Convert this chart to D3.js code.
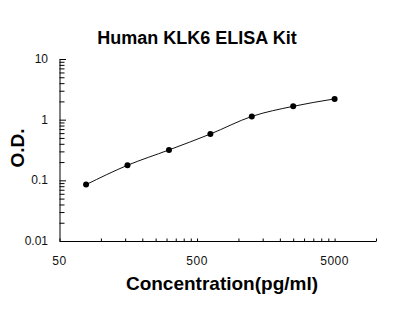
<!DOCTYPE html>
<html>
<head>
<meta charset="utf-8">
<script src="https://cdn.jsdelivr.net/npm/d3@7"></script>
<style>
  body { margin: 0; background: #fff; }
  svg { display: block; font-family: Arial, "Liberation Sans", sans-serif; }
  .tick-label { font-size: 12px; fill: #111; }
</style>
</head>
<body>
<div id="chart"></div>
<script>
const width = 394
const height = 319

// standard dilution series (pg/ml) and measured O.D.
const concentration = [78, 156, 312.5, 625, 1250, 2500, 5000]
const od = [0.085, 0.177, 0.317, 0.58, 1.13, 1.66, 2.2]

const xLabels = [50, 500, 5000]
const yLabels = [10, 1, 0.1, 0.01]

const x = d3.scaleLog()
    .domain([50, 10000])
    .range([59.5, 376])

const y = d3.scaleLog()
    .domain([0.01, 10])
    .range([241, 59])

const svg = d3.select('#chart')
    .append('svg')
    .attr('width', width)
    .attr('height', height)

// title
svg.append('text')
    .attr('x', 197)
    .attr('y', 44)
    .attr('text-anchor', 'middle')
    .style('font-size', '18px')
    .style('font-weight', 'bold')
    .text('Human KLK6 ELISA Kit')

// x minor ticks: 50,100,...,500 then 1000,...,5000, then 10000
let xTicks = []
for (let k = 1; k <= 10; k++) xTicks.push(50 * k)
for (let k = 2; k <= 10; k++) xTicks.push(500 * k)
xTicks.push(10000)

const xAxis = d3.axisBottom(x)
    .tickValues(xTicks)
    .tickSizeInner(-2.5)
    .tickSizeOuter(0)
    .tickFormat('')

const gx = svg.append('g')
    .attr('transform', `translate(0,${y(0.01)})`)
    .call(xAxis)
gx.selectAll('path, line').attr('stroke', '#000').attr('stroke-width', 1)

svg.selectAll('text.xlab')
    .data(xLabels)
    .enter()
    .append('text')
    .attr('class', 'tick-label')
    .attr('x', d => x(d))
    .attr('y', 265)
    .attr('text-anchor', 'middle')
    .style('letter-spacing', '0.5px')
    .text(d => d)

// y ticks, major at decades, minor between
let yTicks = []
for (let e = -2; e < 1; e++) {
    for (let k = 1; k < 10; k++) yTicks.push(k * Math.pow(10, e))
}
yTicks.push(10)

const yAxis = d3.axisLeft(y)
    .tickValues(yTicks)
    .tickSizeInner(-5)
    .tickSizeOuter(0)
    .tickFormat('')

const gy = svg.append('g')
    .attr('transform', `translate(${x(50)},0)`)
    .call(yAxis)
gy.selectAll('path, line').attr('stroke', '#000').attr('stroke-width', 1)
gy.selectAll('.tick line')
    .filter(d => Math.abs(Math.log10(d) - Math.round(Math.log10(d))) < 1e-9)
    .attr('x2', 6.5)

svg.selectAll('text.ylab')
    .data(yLabels)
    .enter()
    .append('text')
    .attr('class', 'tick-label')
    .attr('x', 48)
    .attr('y', d => y(d) + 4)
    .attr('text-anchor', 'end')
    .text(d => d)

// axis titles
svg.append('text')
    .attr('x', 222)
    .attr('y', 290)
    .attr('text-anchor', 'middle')
    .style('font-size', '19px')
    .style('font-weight', 'bold')
    .text('Concentration(pg/ml)')

svg.append('text')
    .attr('transform', 'translate(24,148) rotate(-90)')
    .attr('text-anchor', 'middle')
    .style('font-size', '19px')
    .style('font-weight', 'bold')
    .text('O.D.')

// fitted curve through the standards
const points = concentration.map((c, i) => [c, od[i]])

const line = d3.line()
    .x(d => x(d[0]))
    .y(d => y(d[1]))
    .curve(d3.curveMonotoneX)

svg.append('path')
    .datum(points)
    .attr('fill', 'none')
    .attr('stroke', '#111')
    .attr('stroke-width', 1)
    .attr('d', line)

svg.selectAll('circle.pt')
    .data(points)
    .enter()
    .append('circle')
    .attr('class', 'pt')
    .attr('cx', d => x(d[0]))
    .attr('cy', d => y(d[1]))
    .attr('r', 3)
    .attr('fill', '#000')
</script>
</body>
</html>
